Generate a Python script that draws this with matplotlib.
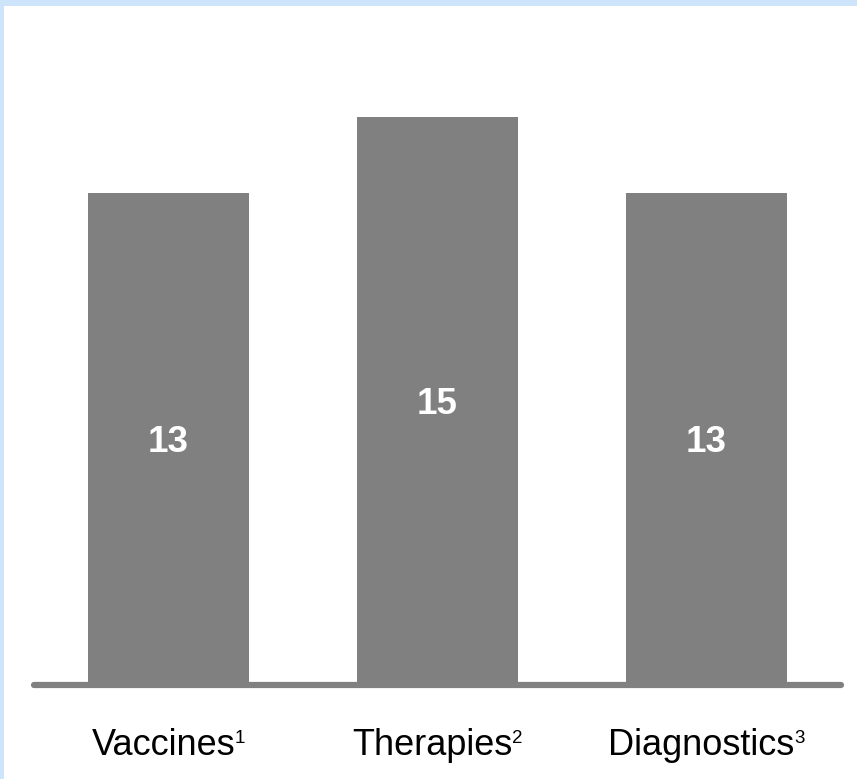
import matplotlib.pyplot as plt
from matplotlib.patches import Rectangle
from matplotlib.transforms import offset_copy

# Données
noms = ['Vaccines', 'Therapies', 'Diagnostics']
notes = ['1', '2', '3']
valeurs = [13, 15, 13]

plt.rcParams['font.family'] = ['Liberation Sans', 'DejaVu Sans']

W, H = 857, 779
fig = plt.figure(figsize=(W / 100, H / 100), dpi=100)
fig.patch.set_facecolor('white')

# Bordure bleu clair (haut et gauche)
bleu = '#cde4fb'
fig.patches.append(Rectangle((0, 1 - 6 / H), 1, 6 / H, transform=fig.transFigure,
                             facecolor=bleu, edgecolor='none', zorder=0))
fig.patches.append(Rectangle((0, 0), 4 / W, 1, transform=fig.transFigure,
                             facecolor=bleu, edgecolor='none', zorder=0))

ax = fig.add_axes([34 / W, (H - 685) / H, (841 - 34) / W, (685 - 79) / H])
ax.set_xlim(-0.5, 2.5)
ax.set_ylim(0, 16)
ax.axis('off')

x = range(len(noms))
ax.bar(x, valeurs, width=0.6, color='#808080', zorder=2)

# Ligne de base arrondie
ax.plot([-0.5, 2.5], [0, 0], color='#808080', lw=4.5, solid_capstyle='round',
        clip_on=False, zorder=3)

renderer = fig.canvas.get_renderer()

for i, (nom, note, v) in enumerate(zip(noms, notes, valeurs)):
    # valeur au milieu de la barre
    ax.annotate(str(v), xy=(i, v / 2), xytext=(0, -9.5), textcoords='offset points',
                ha='center', va='baseline', color='white', fontsize=26.5,
                fontweight='bold', zorder=4)

    # étiquette sous l'axe + exposant
    t_nom = ax.text(i, 0, nom, ha='left', va='baseline', color='black',
                    fontsize=26, clip_on=False)
    t_note = ax.text(i, 0, note, ha='left', va='baseline', color='black',
                     fontsize=13.5, clip_on=False)
    wm = t_nom.get_window_extent(renderer).width
    ws = t_note.get_window_extent(renderer).width
    x0 = -(wm + ws) / 2
    t_nom.set_transform(offset_copy(ax.transData, fig, x=x0, y=-70, units='dots'))
    t_note.set_transform(offset_copy(ax.transData, fig, x=x0 + wm, y=-58,
                                     units='dots'))

fig.savefig('out.png', dpi=100)
